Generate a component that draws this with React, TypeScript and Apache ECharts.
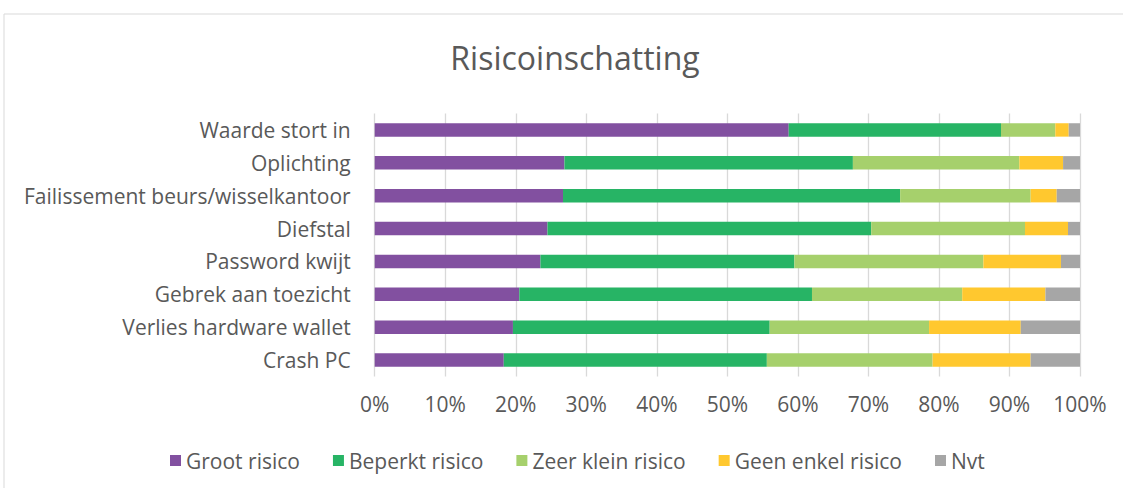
import React, { useEffect, useRef } from "react";
import * as echarts from "echarts";

const categories = [
  "Waarde stort in",
  "Oplichting",
  "Failissement beurs/wisselkantoor",
  "Diefstal",
  "Password kwijt",
  "Gebrek aan toezicht",
  "Verlies hardware wallet",
  "Crash PC",
];
const grootRisico = [58.7, 26.9, 26.7, 24.5, 23.5, 20.5, 19.6, 18.3];
const beperktRisico = [30.1, 40.9, 47.8, 45.9, 36.0, 41.5, 36.4, 37.3];
const zeerKleinRisico = [7.7, 23.6, 18.5, 21.8, 26.8, 21.3, 22.6, 23.5];
const geenEnkelRisico = [1.9, 6.2, 3.7, 6.1, 11.0, 11.8, 13.0, 13.9];
const nvt = [1.6, 2.4, 3.3, 1.7, 2.7, 4.9, 8.4, 7.0];

const seriesNames = ["Groot risico", "Beperkt risico", "Zeer klein risico", "Geen enkel risico", "Nvt"];
const seriesColors = ["#8250A0", "#27B465", "#A6D06C", "#FFC82F", "#A6A6A6"];
const seriesData = [grootRisico, beperktRisico, zeerKleinRisico, geenEnkelRisico, nvt];

const FONT = "Open Sans";
const TEXT = "#595959";

export default function App() {
  const ref = useRef<HTMLDivElement>(null);
  useEffect(() => {
    document.body.style.margin = "0";
    const chart = echarts.init(ref.current!, null, { renderer: "svg" });
    chart.setOption({
      animation: false,
      backgroundColor: "#ffffff",
      textStyle: { fontFamily: FONT },
      graphic: [
        {
          type: "rect",
          shape: { x: 4, y: 14, width: 1140, height: 500 },
          style: { fill: "none", stroke: "#d9d9d9", lineWidth: 1 },
          silent: true,
        },
      ],
      title: {
        text: "Risicoinschatting",
        left: 570,
        top: 36,
        textAlign: "center",
        textStyle: { fontFamily: FONT, fontSize: 32, fontWeight: "normal", color: TEXT },
      },
      legend: {
        top: 445,
        left: 165,
        itemWidth: 11,
        itemHeight: 11,
        itemGap: 33,
        icon: "rect",
        textStyle: { fontFamily: FONT, fontSize: 21, color: TEXT, padding: [0, 0, 0, 0] },
        data: seriesNames,
      },
      grid: { left: 374.7, right: 43, top: 113.5, bottom: 111.5, containLabel: false },
      xAxis: {
        type: "value",
        min: 0,
        max: 100,
        interval: 10,
        axisLine: { show: false },
        axisTick: { show: false },
        splitLine: { show: true, lineStyle: { color: "#d9d9d9", width: 1.3 } },
        axisLabel: {
          formatter: "{value}%",
          fontFamily: FONT,
          fontSize: 21,
          color: TEXT,
          margin: 17,
        },
      },
      yAxis: {
        type: "category",
        inverse: true,
        data: categories,
        axisLine: { show: false },
        axisTick: { show: false },
        splitLine: { show: false },
        axisLabel: { fontFamily: FONT, fontSize: 21, color: TEXT, margin: 24 },
      },
      series: seriesNames.map((name, i) => ({
        name,
        type: "bar",
        stack: "total",
        barWidth: 13.4,
        itemStyle: { color: seriesColors[i] },
        data: seriesData[i],
      })),
    });
    return () => chart.dispose();
  }, []);
  return <div ref={ref} style={{ width: 1123, height: 488 }} />;
}
